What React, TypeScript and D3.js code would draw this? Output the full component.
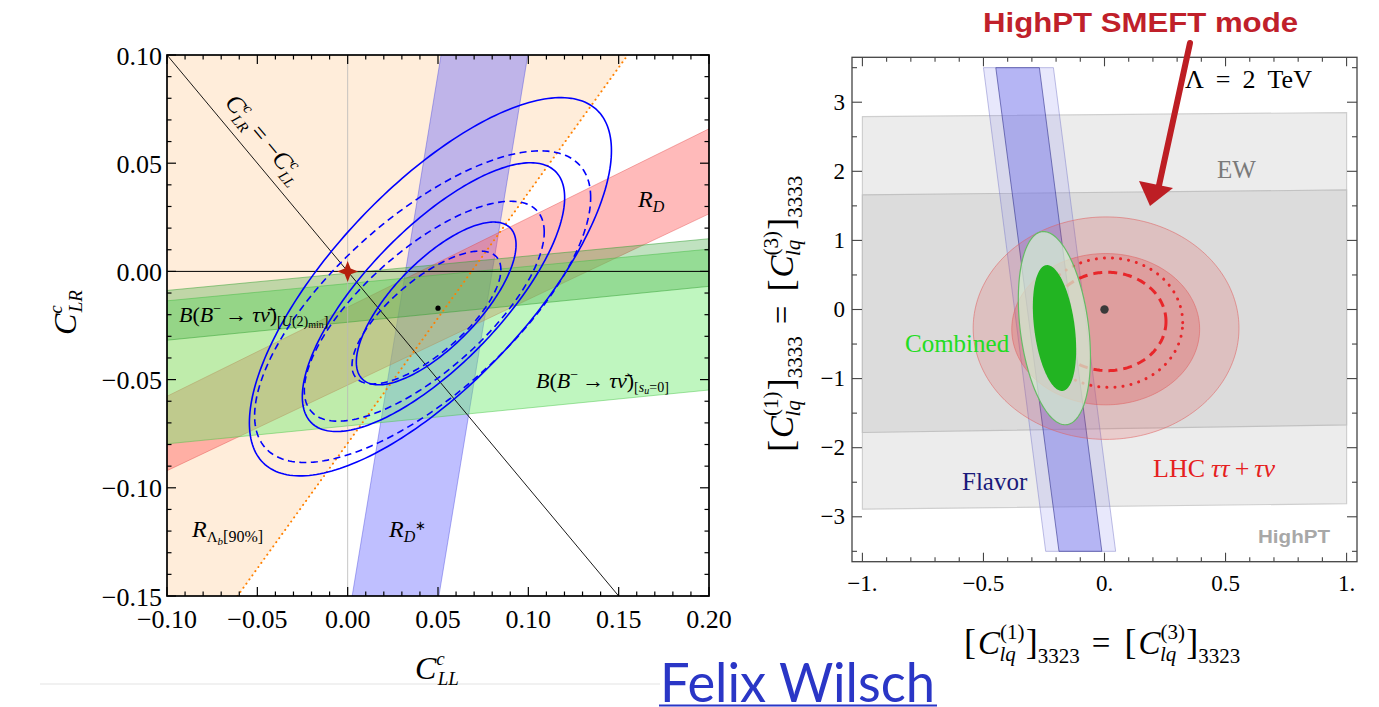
import React from "react";
import * as d3 from "d3";

// ---------------- Left panel data ----------------
const lxTicks = [-0.1, -0.05, 0, 0.05, 0.1, 0.15, 0.2];
const lxTickLabels = ["−0.10", "−0.05", "0.00", "0.05", "0.10", "0.15", "0.20"];
const lyTicks = [0.1, 0.05, 0, -0.05, -0.1, -0.15];
const lyTickLabels = ["0.10", "0.05", "0.00", "−0.05", "−0.10", "−0.15"];

const rLambdaRegion: [number, number][] = [[-0.1, 0.1], [0.155, 0.1], [-0.061, -0.15], [-0.1, -0.15]];
const rLambdaEdge: [number, number][] = [[-0.061, -0.15], [0.155, 0.1]];
const rDstarBand: [number, number][] = [[0.0517, 0.1], [0.0997, 0.1], [0.0505, -0.15], [0.0025, -0.15]];
const rDBand: [number, number][] = [[-0.1, -0.0577], [0.2, 0.0659], [0.2, 0.0266], [-0.1, -0.0921]];
const btnSuBand: [number, number][] = [[-0.1, -0.0136], [0.2, 0.0103], [0.2, -0.0548], [-0.1, -0.0797]];
const btnU2Band: [number, number][] = [[-0.1, -0.0088], [0.2, 0.0151], [0.2, -0.0069], [-0.1, -0.0318]];
const diagLine: [number, number][] = [[-0.1, 0.1], [0.15, -0.15]];

const solidEllipses = [
  { cx: 0.0458, cy: -0.0071, wx: 0.1002, hy: 0.0874, rho: 0.72 },
  { cx: 0.0475, cy: -0.0119, wx: 0.0726, hy: 0.0621, rho: 0.74 },
  { cx: 0.049, cy: -0.0148, wx: 0.0442, hy: 0.0376, rho: 0.72 },
];
const dashedEllipses = [
  { cx: 0.0415, cy: -0.0163, wx: 0.093, hy: 0.072, rho: 0.7 },
  { cx: 0.0424, cy: -0.0184, wx: 0.0664, hy: 0.0508, rho: 0.72 },
  { cx: 0.0436, cy: -0.0213, wx: 0.0412, hy: 0.0307, rho: 0.72 },
];
const leftBestFit: [number, number] = [0.05, -0.017];
const leftSM: [number, number] = [0, 0];

// ---------------- Right panel data ----------------
const rxTicks = [-1, -0.5, 0, 0.5, 1];
const rxTickLabels = ["−1.", "−0.5", "0.", "0.5", "1."];
const ryTicks = [3, 2, 1, 0, -1, -2, -3];
const ryTickLabels = ["3", "2", "1", "0", "−1", "−2", "−3"];

const ewOuter: [number, number][] = [[-1, 2.79], [1, 2.85], [1, -2.81], [-1, -2.89]];
const ewInner: [number, number][] = [[-1, 1.66], [1, 1.73], [1, -1.67], [-1, -1.78]];
const flavorOuter: [number, number][] = [[-0.5, 3.5], [-0.211, 3.5], [0.046, -3.5], [-0.243, -3.5]];
const flavorInner: [number, number][] = [[-0.449, 3.5], [-0.269, 3.5], [-0.011, -3.5], [-0.188, -3.5]];
const lhcOuter = { cx: 0.0065, cy: -0.27, wx: 0.549, hy: 1.61, rho: 0 };
const lhcInner = { cx: 0.005, cy: -0.285, wx: 0.388, hy: 1.095, rho: 0 };
const lhcDotted = { cx: 0.019, cy: -0.19, wx: 0.304, hy: 0.937, rho: 0 };
const lhcDashed = { cx: 0.0125, cy: -0.173, wx: 0.2415, hy: 0.712, rho: 0 };
const combinedOuter = { cx: -0.207, cy: -0.27, wx: 0.149, hy: 1.398, rho: -0.3 };
const combinedInner = { cx: -0.2065, cy: -0.268, wx: 0.0895, hy: 0.911, rho: -0.34 };
const rightBestFit: [number, number] = [0, 0];

const SERIF = "'Liberation Serif', 'Times New Roman', serif";
const SANS = "'Liberation Sans', Arial, sans-serif";

type E = { cx: number; cy: number; wx: number; hy: number; rho: number };

function ellipsePath(e: E, xs: any, ys: any, n = 240) {
  const s = Math.sqrt(1 - e.rho * e.rho);
  const pts: [number, number][] = d3.range(n + 1).map((i) => {
    const t = (2 * Math.PI * i) / n;
    const x = e.cx + e.wx * Math.cos(t);
    const y = e.cy + e.hy * (e.rho * Math.cos(t) + s * Math.sin(t));
    return [xs(x), ys(y)];
  });
  return (d3.line()(pts) as string) + "Z";
}
function polyPath(pts: [number, number][], xs: any, ys: any, close = true) {
  return (d3.line()(pts.map((p) => [xs(p[0]), ys(p[1])] as [number, number])) as string) + (close ? "Z" : "");
}

function WilsonLabel({ idx }: { idx: string }) {
  return (
    <text x={0} y={0} fontSize={33}>
      <tspan fontSize={36}>[</tspan>
      <tspan fontStyle="italic" dx={2}>C</tspan>
      <tspan fontSize={21} dy={-15}>(1)</tspan>
      <tspan fontSize={21} dx={-25} dy={22} fontStyle="italic">lq</tspan>
      <tspan fontSize={36} dx={10} dy={-7}>]</tspan>
      <tspan fontSize={21} dy={9}>{idx}</tspan>
      <tspan dy={-9} dx={12}>=</tspan>
      <tspan fontSize={36} dx={14}>[</tspan>
      <tspan fontStyle="italic" dx={2}>C</tspan>
      <tspan fontSize={21} dy={-15}>(3)</tspan>
      <tspan fontSize={21} dx={-25} dy={22} fontStyle="italic">lq</tspan>
      <tspan fontSize={36} dx={10} dy={-7}>]</tspan>
      <tspan fontSize={21} dy={9}>{idx}</tspan>
    </text>
  );
}

export default function App() {
  const xL = d3.scaleLinear().domain([-0.1, 0.2]).range([167, 709]);
  const yL = d3.scaleLinear().domain([-0.15, 0.1]).range([596, 55]);
  const xR = d3.scaleLinear().domain([-1.043, 1.043]).range([852, 1357]);
  const yR = d3.scaleLinear().domain([-3.65, 3.65]).range([561.7, 57.3]);

  const lxMinor = d3.range(-10, 21).map((i) => i / 100);
  const lyMinor = d3.range(-15, 11).map((i) => i / 100);
  const rxMinor = d3.range(-10, 11).map((i) => i / 10);
  const ryMinor = d3.range(-7, 8).map((i) => i / 2);

  const starC = [xL(leftSM[0]), yL(leftSM[1])];
  const starPts = d3.range(8).map((k) => {
    const a = (k * Math.PI) / 4 - Math.PI / 2;
    const r = k % 2 === 0 ? 10.5 : 4.2;
    return [starC[0] + r * Math.cos(a), starC[1] + r * Math.sin(a)] as [number, number];
  });

  const diagAngle = (Math.atan2(yL(-0.15) - yL(0.1), xL(0.15) - xL(-0.1)) * 180) / Math.PI;

  return (
    <svg width={1379} height={707} style={{ position: "absolute", left: 0, top: 0, display: "block", background: "#fff" }} fontFamily={SERIF}>
      <defs>
        <clipPath id="clipL"><rect x={167} y={55} width={542} height={541} /></clipPath>
        <clipPath id="clipR"><rect x={852} y={57.3} width={505} height={504.4} /></clipPath>
      </defs>

      {/* faint slide separator */}
      <line x1={40} x2={660} y1={684} y2={684} stroke="#ececec" strokeWidth={1.5} />

      {/* ================= LEFT PANEL ================= */}
      <g clipPath="url(#clipL)">
        <path d={polyPath(rLambdaRegion, xL, yL)} fill="#ffe0c0" fillOpacity={0.58} />
        <path d={polyPath(rDstarBand, xL, yL)} fill="#6666ff" fillOpacity={0.42} stroke="#5050e0" strokeOpacity={0.45} strokeWidth={1} />
        <path d={polyPath(rDBand, xL, yL)} fill="#ff5a5a" fillOpacity={0.42} stroke="#e04040" strokeOpacity={0.4} strokeWidth={1} />
        <path d={polyPath(btnSuBand, xL, yL)} fill="#70ea70" fillOpacity={0.45} stroke="#40c040" strokeOpacity={0.45} strokeWidth={1} />
        <path d={polyPath(btnU2Band, xL, yL)} fill="#40a840" fillOpacity={0.33} stroke="#30a030" strokeOpacity={0.5} strokeWidth={1} />

        <line x1={xL(0)} x2={xL(0)} y1={55} y2={596} stroke="#b8b8b8" strokeWidth={0.8} />
        <line x1={167} x2={709} y1={yL(0)} y2={yL(0)} stroke="#000" strokeWidth={1} />
        <path d={polyPath(diagLine, xL, yL, false)} stroke="#000" strokeWidth={0.9} fill="none" />
        <path d={polyPath(rLambdaEdge, xL, yL, false)} stroke="#ff8000" strokeWidth={2} strokeDasharray="0.1,5" strokeLinecap="round" fill="none" />

        {solidEllipses.map((e, i) => (
          <path key={"s" + i} d={ellipsePath(e, xL, yL)} fill="none" stroke="#0000ff" strokeWidth={1.6} />
        ))}
        {dashedEllipses.map((e, i) => (
          <path key={"d" + i} d={ellipsePath(e, xL, yL)} fill="none" stroke="#0000ff" strokeWidth={1.6} strokeDasharray="7,4.5" />
        ))}
        <circle cx={xL(leftBestFit[0])} cy={yL(leftBestFit[1])} r={2.6} fill="#000" />
        <path d={(d3.line()(starPts) as string) + "Z"} fill="#b5200d" />
      </g>

      {/* left labels */}
      <g transform={`translate(258.4,144) rotate(${diagAngle})`}>
        <text textAnchor="middle" fontSize={25}>
          <tspan fontStyle="italic">C</tspan>
          <tspan fontSize={15} dy={-10} fontStyle="italic">c</tspan>
          <tspan fontSize={15} dx={-6} dy={16} fontStyle="italic">LR</tspan>
          <tspan dy={-6} dx={4}>=</tspan>
          <tspan dx={6}>−</tspan>
          <tspan fontStyle="italic">C</tspan>
          <tspan fontSize={15} dy={-10} fontStyle="italic">c</tspan>
          <tspan fontSize={15} dx={-6} dy={16} fontStyle="italic">LL</tspan>
        </text>
      </g>
      <text x={638} y={207} fontSize={24}>
        <tspan fontStyle="italic">R</tspan>
        <tspan fontSize={16} dy={5} fontStyle="italic">D</tspan>
      </text>
      <text x={389} y={537} fontSize={24}>
        <tspan fontStyle="italic">R</tspan>
        <tspan fontSize={16} dy={5} fontStyle="italic">D</tspan>
        <tspan fontSize={13} dy={-12}>∗</tspan>
      </text>
      <text x={192} y={537} fontSize={24}>
        <tspan fontStyle="italic">R</tspan>
        <tspan fontSize={15} dy={5}>Λ</tspan>
        <tspan fontSize={11} dy={3} fontStyle="italic">b</tspan>
        <tspan fontSize={16} dy={-3}>[90%]</tspan>
      </text>
      <text x={179} y={322} fontSize={22}>
        <tspan fontStyle="italic">B</tspan>
        <tspan>(</tspan>
        <tspan fontStyle="italic">B</tspan>
        <tspan fontSize={14} dy={-9}>−</tspan>
        <tspan dy={9} dx={4}>→</tspan>
        <tspan fontStyle="italic" dx={5}>τν̄</tspan>
        <tspan>)</tspan>
        <tspan fontSize={14} dy={4}>[</tspan>
        <tspan fontSize={14} fontStyle="italic">U</tspan>
        <tspan fontSize={14}>(2)</tspan>
        <tspan fontSize={10} dy={2}>min</tspan>
        <tspan fontSize={14} dy={-2}>]</tspan>
      </text>
      <text x={536} y={388} fontSize={22}>
        <tspan fontStyle="italic">B</tspan>
        <tspan>(</tspan>
        <tspan fontStyle="italic">B</tspan>
        <tspan fontSize={14} dy={-9}>−</tspan>
        <tspan dy={9} dx={4}>→</tspan>
        <tspan fontStyle="italic" dx={5}>τν̄</tspan>
        <tspan>)</tspan>
        <tspan fontSize={14} dy={4}>[</tspan>
        <tspan fontSize={14} fontStyle="italic">s</tspan>
        <tspan fontSize={10} dy={2} fontStyle="italic">u</tspan>
        <tspan fontSize={14} dy={-2}>=0]</tspan>
      </text>

      {/* left frame & ticks */}
      <rect x={167} y={55} width={542} height={541} fill="none" stroke="#000" strokeWidth={1.7} />
      {lxMinor.map((v, i) => {
        const maj = Math.abs(Math.round(v * 100)) % 5 === 0;
        const L = maj ? 9 : 4.5;
        return (
          <g key={"lx" + i}>
            <line x1={xL(v)} x2={xL(v)} y1={596} y2={596 - L} stroke="#000" strokeWidth={1.2} />
            <line x1={xL(v)} x2={xL(v)} y1={55} y2={55 + L} stroke="#000" strokeWidth={1.2} />
          </g>
        );
      })}
      {lyMinor.map((v, i) => {
        const maj = Math.abs(Math.round(v * 100)) % 5 === 0;
        const L = maj ? 9 : 4.5;
        return (
          <g key={"ly" + i}>
            <line x1={167} x2={167 + L} y1={yL(v)} y2={yL(v)} stroke="#000" strokeWidth={1.2} />
            <line x1={709} x2={709 - L} y1={yL(v)} y2={yL(v)} stroke="#000" strokeWidth={1.2} />
          </g>
        );
      })}
      {lxTicks.map((v, i) => (
        <text key={"lxt" + i} x={xL(v)} y={628} textAnchor="middle" fontSize={26}>{lxTickLabels[i]}</text>
      ))}
      {lyTicks.map((v, i) => (
        <text key={"lyt" + i} x={162} y={yL(v) + 9.5} textAnchor="end" fontSize={26}>{lyTickLabels[i]}</text>
      ))}
      <text x={415} y={679} fontSize={32}>
        <tspan fontStyle="italic">C</tspan>
        <tspan fontSize={19} dy={-14} fontStyle="italic">c</tspan>
        <tspan fontSize={19} dx={-7} dy={20} fontStyle="italic">LL</tspan>
      </text>
      <g transform="translate(76,335) rotate(-90)">
        <text x={0} y={0} fontSize={32}>
          <tspan fontStyle="italic">C</tspan>
          <tspan fontSize={19} dy={-14} fontStyle="italic">c</tspan>
          <tspan fontSize={19} dx={-7} dy={20} fontStyle="italic">LR</tspan>
        </text>
      </g>

      {/* ================= RIGHT PANEL ================= */}
      <g clipPath="url(#clipR)">
        <path d={polyPath(ewOuter, xR, yR)} fill="#ececec" stroke="#cfcfcf" strokeWidth={1.2} />
        <path d={polyPath(ewInner, xR, yR)} fill="#dcdcdc" stroke="#c2c2c2" strokeWidth={1.2} />
        <path d={polyPath(flavorOuter, xR, yR)} fill="#8080ee" fillOpacity={0.18} stroke="#8080cc" strokeOpacity={0.5} strokeWidth={1} />
        <path d={polyPath(flavorInner, xR, yR)} fill="#6a6ae8" fillOpacity={0.4} stroke="#33338f" strokeOpacity={0.6} strokeWidth={1} />
        <path d={ellipsePath(lhcOuter, xR, yR)} fill="#e05050" fillOpacity={0.2} stroke="#e06060" strokeOpacity={0.55} strokeWidth={1} />
        <path d={ellipsePath(lhcInner, xR, yR)} fill="#e05050" fillOpacity={0.3} stroke="#e06060" strokeOpacity={0.55} strokeWidth={1} />
        <path d={ellipsePath(lhcDotted, xR, yR)} fill="none" stroke="#e8262a" strokeWidth={3} strokeDasharray="0.1,8" strokeLinecap="round" />
        <path d={ellipsePath(lhcDashed, xR, yR)} fill="none" stroke="#e8262a" strokeWidth={3} strokeDasharray="9,6" />
        <path d={ellipsePath(combinedOuter, xR, yR)} fill="#d4f0d4" fillOpacity={0.72} stroke="#66bb66" strokeWidth={1.2} />
        <path d={ellipsePath(combinedInner, xR, yR)} fill="#22b422" />
        <circle cx={xR(rightBestFit[0])} cy={yR(rightBestFit[1])} r={4.2} fill="#3a3a3a" />
      </g>

      {/* right frame & ticks */}
      <rect x={852} y={57.3} width={505} height={504.4} fill="none" stroke="#444" strokeWidth={1.3} />
      {rxMinor.map((v, i) => {
        const maj = Math.round(v * 10) % 5 === 0;
        const L = maj ? 9 : 4.5;
        return (
          <g key={"rx" + i}>
            <line x1={xR(v)} x2={xR(v)} y1={561.7} y2={561.7 - L} stroke="#444" strokeWidth={1.1} />
            <line x1={xR(v)} x2={xR(v)} y1={57.3} y2={57.3 + L} stroke="#444" strokeWidth={1.1} />
          </g>
        );
      })}
      {ryMinor.map((v, i) => {
        const maj = Number.isInteger(v);
        const L = maj ? 10 : 5;
        return (
          <g key={"ry" + i}>
            <line x1={852} x2={852 + L} y1={yR(v)} y2={yR(v)} stroke="#444" strokeWidth={1.1} />
            <line x1={1357} x2={1357 - L} y1={yR(v)} y2={yR(v)} stroke="#444" strokeWidth={1.1} />
          </g>
        );
      })}
      {rxTicks.map((v, i) => (
        <text key={"rxt" + i} x={xR(v)} y={591} textAnchor="middle" fontSize={23}>{rxTickLabels[i]}</text>
      ))}
      {ryTicks.map((v, i) => (
        <text key={"ryt" + i} x={845} y={yR(v) + 7.5} textAnchor="end" fontSize={23}>{ryTickLabels[i]}</text>
      ))}

      {/* right labels */}
      <text x={1185} y={88} fontSize={26}>
        <tspan>Λ</tspan>
        <tspan dx={12}>=</tspan>
        <tspan dx={12}>2</tspan>
        <tspan dx={12}>TeV</tspan>
      </text>
      <text x={1217} y={178} fontSize={25} fill="#7a7a7a">EW</text>
      <text x={905} y={352} fontSize={25} fill="#22dd22">Combined</text>
      <text x={962} y={490} fontSize={25} fill="#1a1a7a">Flavor</text>
      <text x={1153} y={477} fontSize={26} fill="#e52020">
        <tspan>LHC</tspan>
        <tspan fontStyle="italic" dx={6}>ττ</tspan>
        <tspan dx={5}>+</tspan>
        <tspan fontStyle="italic" dx={5}>τν</tspan>
      </text>
      <text x={1258} y={543} fontFamily={SANS} fontWeight="bold" fontSize={19} fill="#a8a8a8" textLength={72} lengthAdjust="spacingAndGlyphs">HighPT</text>

      {/* right axis labels */}
      <g transform="translate(964,654)">
        <WilsonLabel idx="3323" />
      </g>
      <g transform="translate(793,452) rotate(-90)">
        <WilsonLabel idx="3333" />
      </g>

      {/* title + arrow */}
      <text x={983} y={32} fontFamily={SANS} fontWeight="bold" fontSize={27} fill="#c0202a" textLength={315} lengthAdjust="spacingAndGlyphs">HighPT SMEFT mode</text>
      <line x1={1190} y1={43} x2={1158} y2={190} stroke="#bd1e24" strokeWidth={6} strokeLinecap="round" />
      <polygon points="1139,181 1173,188 1150,206" fill="#bd1e24" />

      {/* author */}
      <text x={660} y={702} fontFamily="Lato, 'Open Sans', sans-serif" fontSize={54} fill="#2a36c6" textLength={275} lengthAdjust="spacingAndGlyphs">Felix Wilsch</text>
      <line x1={659} x2={937} y1={705.5} y2={705.5} stroke="#2a36c6" strokeWidth={2} />
    </svg>
  );
}
